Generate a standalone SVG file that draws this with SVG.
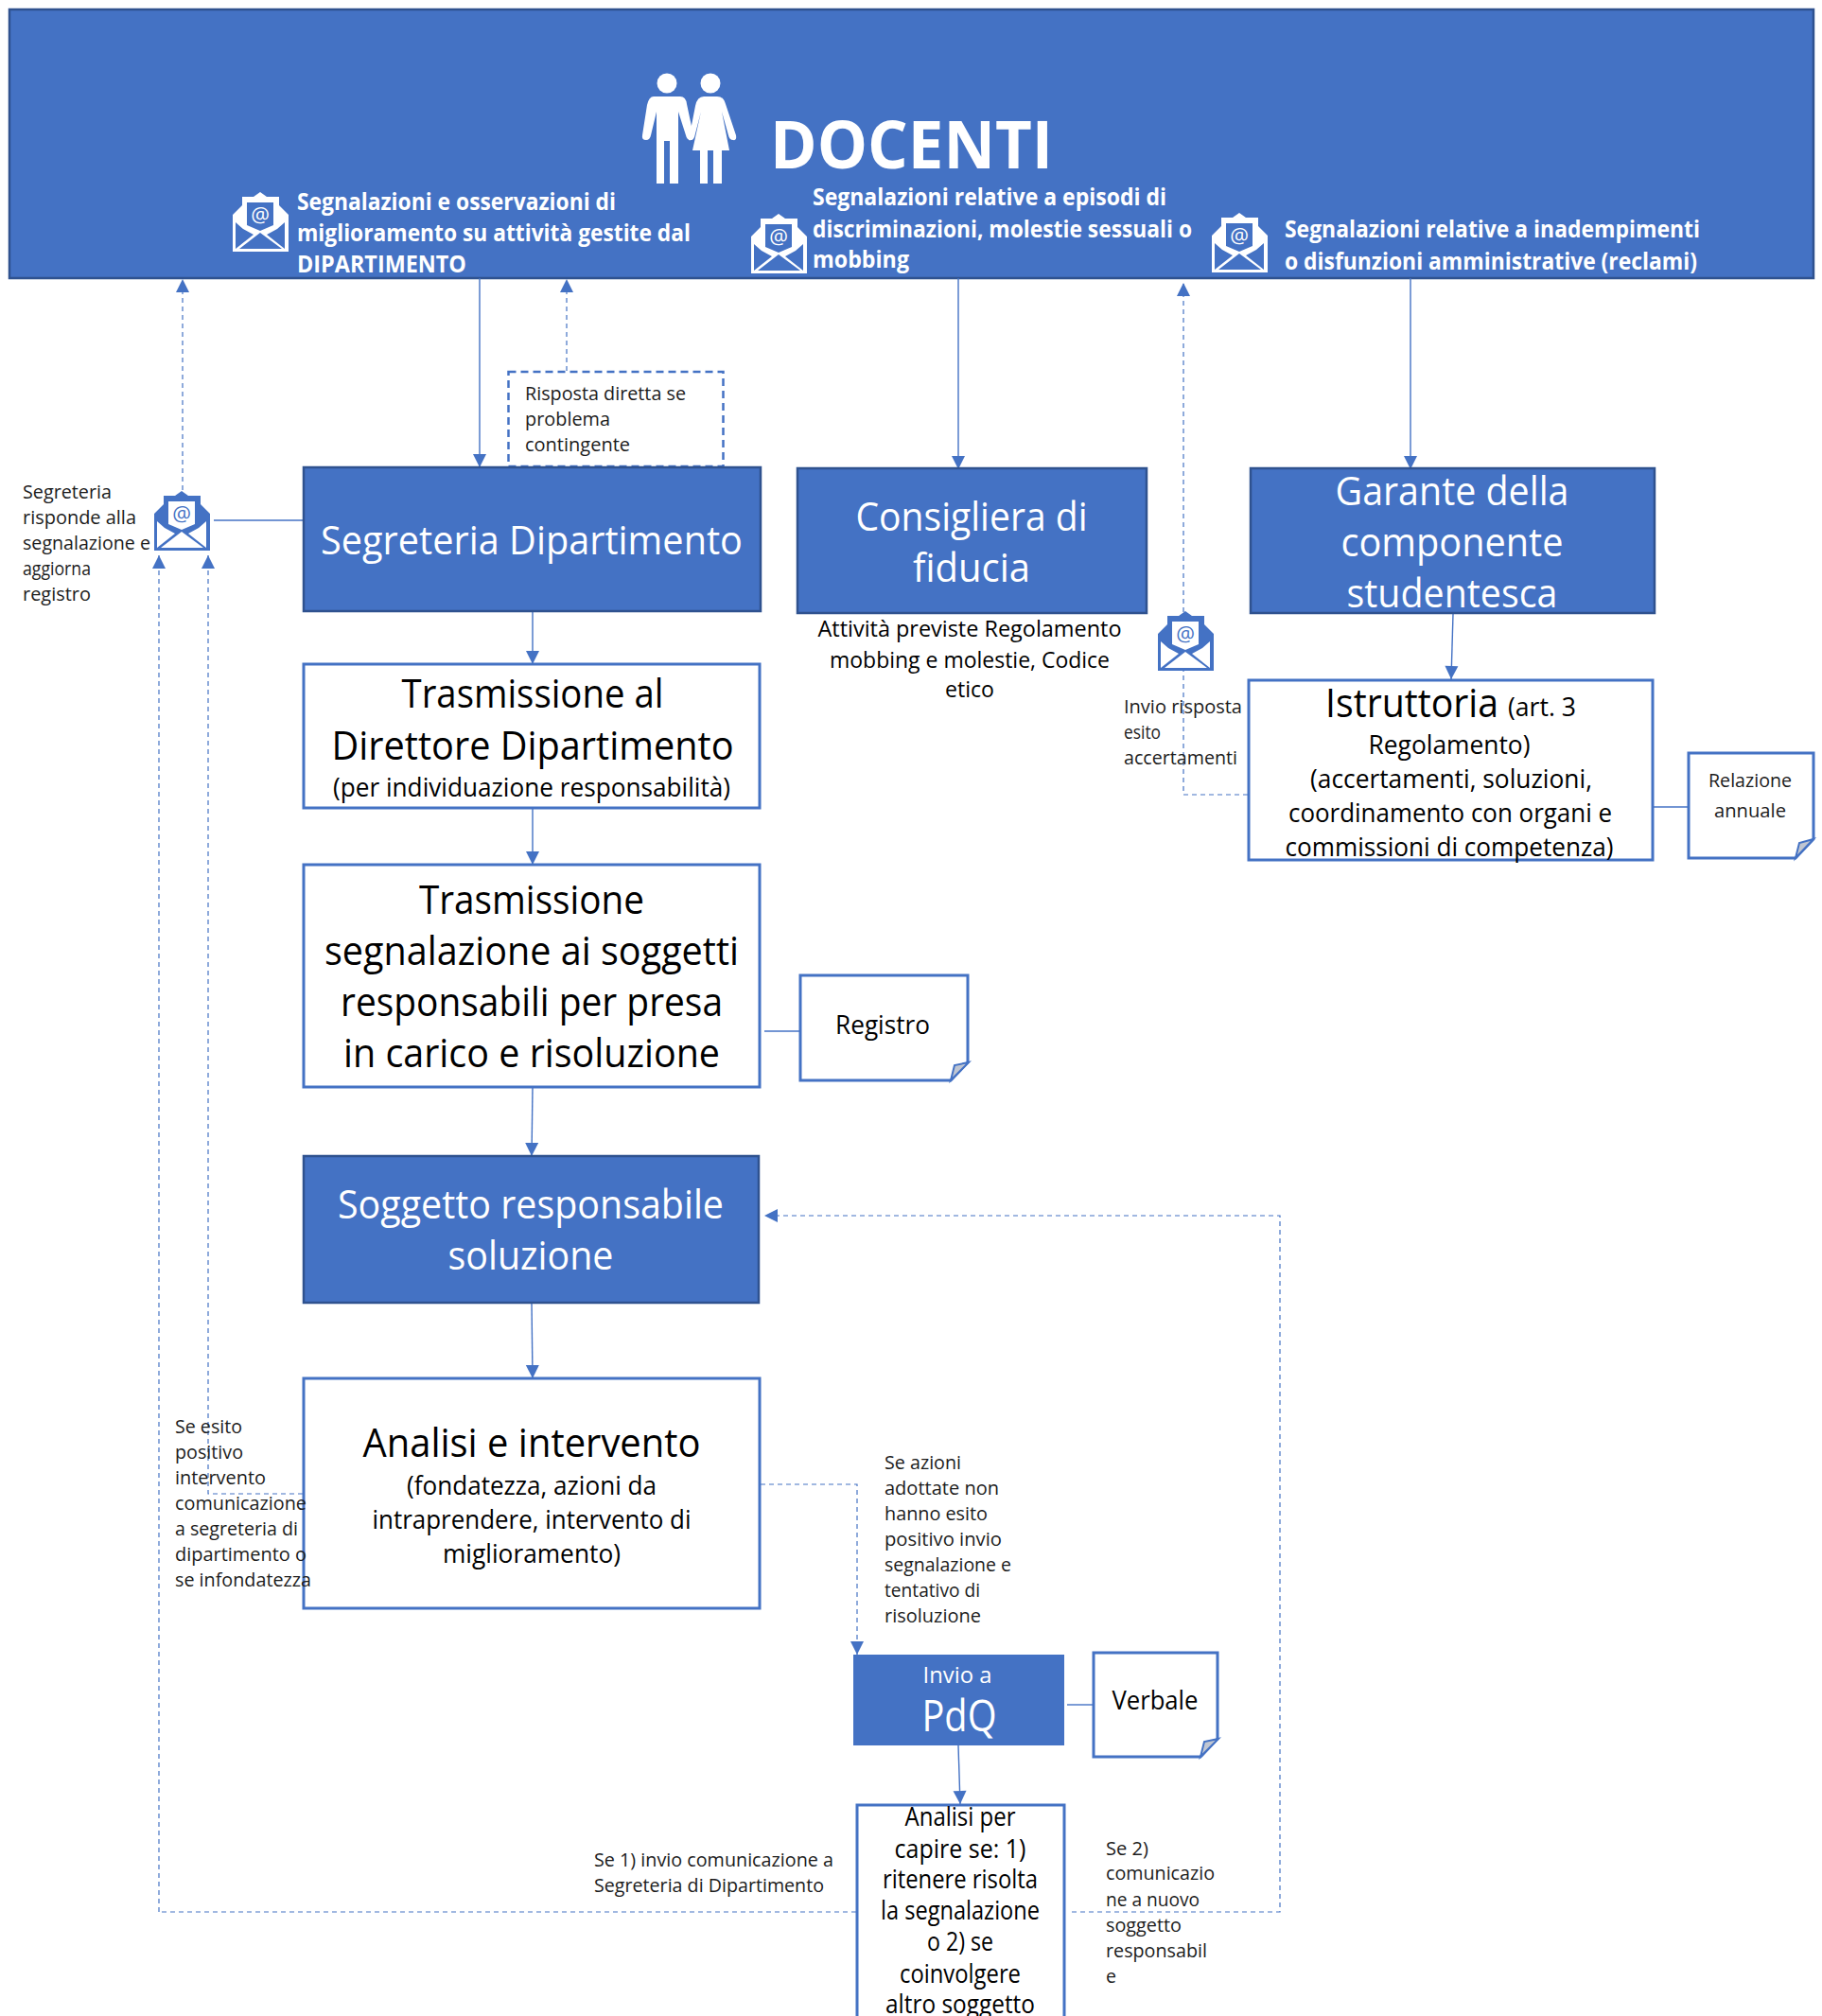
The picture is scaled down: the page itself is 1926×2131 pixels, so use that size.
<svg xmlns="http://www.w3.org/2000/svg" width="1926" height="2131" viewBox="0 0 1926 2131">
<style>
text{font-family:"Open Sans","Noto Sans","Liberation Sans",sans-serif}
.blue{fill:#4472c4;stroke:#2f528f;stroke-width:2.5}
.white{fill:#fff;stroke:#4472c4;stroke-width:3}
.fold{fill:#c0c6d2;stroke:#4472c4;stroke-width:2}
.c{text-anchor:middle}
.w{fill:#fff}
.k{fill:#000}
.s{fill:#1c1c1c;font-size:20px}
.m{font-size:27px}
.l{font-size:42px}
.h{fill:#fff;font-size:25px;font-weight:700}
.ln{fill:none;stroke:#4472c4;stroke-width:1.4}
.ar{marker-end:url(#arrow)}
.da{stroke-dasharray:5 4;stroke-width:1.2}
.ic-w{color:#fff;--b:#4472c4}
.ic-b{color:#4472c4;--b:#fff}
</style>
<defs>
<marker id="arrow" markerUnits="userSpaceOnUse" markerWidth="16" markerHeight="16" viewBox="0 0 16 16" refX="15" refY="8" orient="auto"><path d="M1,1 L15,8 L1,15 Z" fill="#4472c4"/></marker>
<g id="mail">
<path d="M29,0 L36,5 H49 V14 L59,24 V63 H0 V24 L10,14 V5 H22 Z" fill="currentColor"/>
<path d="M15,11 H43 V35 L29,41 L15,35 Z" style="fill:var(--b)"/>
<path d="M3,32 L11,39 L22,45 L3,60 Z M55,32 L47,39 L36,45 L55,60 Z M7,60 L29,43 L52,60 Z" style="fill:var(--b)"/>
<text x="29" y="32" text-anchor="middle" font-size="22" fill="currentColor">@</text>
</g>
</defs>

<g id="docenti">
<rect class="blue" x="10" y="10" width="1907" height="284"/>
<circle cx="705" cy="88" r="10.5" fill="#fff"/><circle cx="751" cy="88" r="10.5" fill="#fff"/>
<path fill="#fff" d="M691,102 H719 Q725,102 726,110 L733,143 Q734,148 730,148 Q726,148 725,143 L717,118 V194 H708 V149 H702 V194 H694 V118 L688,143 Q687,148 683,148 Q678,148 679,143 L684,111 Q686,102 691,102 Z"/>
<path fill="#fff" d="M744,102 H758 Q765,102 767,110 L778,143 Q779,149 775,148 Q771,148 770,143 L763,118 L771,159 H763 V194 H754 V159 H748 V194 H740 V159 H732 L741,118 L734,145 Q732,149 728,148 L735,112 Q737,102 744,102 Z"/>
<text x="814" y="178" font-size="70" font-weight="700" class="w" textLength="299" lengthAdjust="spacingAndGlyphs">DOCENTI</text>
<use href="#mail" x="246" y="203" class="ic-w"/>
<use href="#mail" x="794" y="226" class="ic-w"/>
<use href="#mail" x="1281" y="225" class="ic-w"/>
<text class="h" x="314" y="222" textLength="337" lengthAdjust="spacingAndGlyphs">Segnalazioni e osservazioni di</text>
<text class="h" x="314" y="255" textLength="416" lengthAdjust="spacingAndGlyphs">miglioramento su attività gestite dal</text>
<text class="h" x="314" y="288" textLength="179" lengthAdjust="spacingAndGlyphs">DIPARTIMENTO</text>
<text class="h" x="859" y="217" textLength="374" lengthAdjust="spacingAndGlyphs">Segnalazioni relative a episodi di</text>
<text class="h" x="859" y="251" textLength="401" lengthAdjust="spacingAndGlyphs">discriminazioni, molestie sessuali o</text>
<text class="h" x="859" y="283" textLength="102" lengthAdjust="spacingAndGlyphs">mobbing</text>
<text class="h" x="1358" y="251" textLength="439" lengthAdjust="spacingAndGlyphs">Segnalazioni relative a inadempimenti</text>
<text class="h" x="1358" y="285" textLength="436" lengthAdjust="spacingAndGlyphs">o disfunzioni amministrative (reclami)</text>
</g>

<g id="connectors">
<path class="ln ar" d="M507,294 V494"/>
<path class="ln ar da" d="M599,392 V295"/>
<path class="ln ar da" d="M193,518 V295"/>
<path class="ln" d="M226,550 H320"/>
<path class="ln ar da" d="M168,2021 V587"/>
<path class="ln ar da" d="M320,1579 H220 V587"/>
<path class="ln ar" d="M1013,294 V496"/>
<path class="ln ar" d="M1491,294 V496"/>
<path class="ln ar" d="M1536,649 L1534,718"/>
<path class="ln ar da" d="M1319,840 H1251 V299"/>
<path class="ln" d="M1747,853 H1785"/>
<path class="ln ar" d="M563,646 V702"/>
<path class="ln ar" d="M563,854 V914"/>
<path class="ln" d="M808,1090 H846"/>
<path class="ln ar" d="M563,1149 L562,1222"/>
<path class="ln ar" d="M562,1377 L563,1457"/>
<path class="ln ar da" d="M804,1569 H906 V1749"/>
<path class="ln" d="M1128,1802 H1155"/>
<path class="ln ar" d="M1013,1845 L1015,1907"/>
<path class="ln da" d="M905,2021 H168"/>
<path class="ln ar da" d="M1133,2021 H1353 V1285 H808"/>
</g>

<g id="risposta-diretta">
<rect x="537.5" y="393" width="227" height="100" fill="none" stroke="#4472c4" stroke-width="2.5" stroke-dasharray="8 5"/>
<text class="s" x="555" y="423" textLength="170" lengthAdjust="spacingAndGlyphs">Risposta diretta se</text>
<text class="s" x="555" y="450" textLength="90" lengthAdjust="spacingAndGlyphs">problema</text>
<text class="s" x="555" y="477" textLength="111" lengthAdjust="spacingAndGlyphs">contingente</text>
</g>

<g id="segreteria-risponde">
<use href="#mail" x="163" y="519" class="ic-b"/>
<text class="s" x="24" y="527" textLength="94" lengthAdjust="spacingAndGlyphs">Segreteria</text>
<text class="s" x="24" y="554" textLength="120" lengthAdjust="spacingAndGlyphs">risponde alla</text>
<text class="s" x="24" y="581" textLength="135" lengthAdjust="spacingAndGlyphs">segnalazione e</text>
<text class="s" x="24" y="608" textLength="72" lengthAdjust="spacingAndGlyphs">aggiorna</text>
<text class="s" x="24" y="635" textLength="72" lengthAdjust="spacingAndGlyphs">registro</text>
</g>

<g id="segreteria-dipartimento">
<rect class="blue" x="321" y="494" width="483" height="152"/>
<text class="l w c" x="562" y="586" textLength="446" lengthAdjust="spacingAndGlyphs">Segreteria Dipartimento</text>
</g>

<g id="consigliera">
<rect class="blue" x="843" y="495" width="369" height="153"/>
<text class="l w c" x="1027" y="561" textLength="245" lengthAdjust="spacingAndGlyphs">Consigliera di</text>
<text class="l w c" x="1027" y="615" textLength="124" lengthAdjust="spacingAndGlyphs">fiducia</text>
<text class="k c" font-size="24" x="1025" y="673" textLength="321" lengthAdjust="spacingAndGlyphs">Attività previste Regolamento</text>
<text class="k c" font-size="24" x="1025" y="706" textLength="296" lengthAdjust="spacingAndGlyphs">mobbing e molestie, Codice</text>
<text class="k c" font-size="24" x="1025" y="737" textLength="52" lengthAdjust="spacingAndGlyphs">etico</text>
</g>

<g id="garante">
<rect class="blue" x="1322" y="495" width="427" height="153"/>
<text class="l w c" x="1535" y="534" textLength="247" lengthAdjust="spacingAndGlyphs">Garante della</text>
<text class="l w c" x="1535" y="588" textLength="235" lengthAdjust="spacingAndGlyphs">componente</text>
<text class="l w c" x="1535" y="642" textLength="223" lengthAdjust="spacingAndGlyphs">studentesca</text>
</g>

<g id="istruttoria">
<rect class="white" x="1320" y="719" width="427" height="190"/>
<text class="k" font-size="42" x="1401" y="758" textLength="183" lengthAdjust="spacingAndGlyphs">Istruttoria</text>
<text class="k m" x="1594" y="757" textLength="72" lengthAdjust="spacingAndGlyphs">(art. 3</text>
<text class="k m c" x="1532" y="797" textLength="171" lengthAdjust="spacingAndGlyphs">Regolamento)</text>
<text class="k m c" x="1534" y="833" textLength="298" lengthAdjust="spacingAndGlyphs">(accertamenti, soluzioni,</text>
<text class="k m c" x="1533" y="869" textLength="342" lengthAdjust="spacingAndGlyphs">coordinamento con organi e</text>
<text class="k m c" x="1532" y="905" textLength="347" lengthAdjust="spacingAndGlyphs">commissioni di competenza)</text>
</g>

<g id="invio-risposta">
<use href="#mail" x="1224" y="646" class="ic-b"/>
<text class="s" x="1188" y="754" textLength="125" lengthAdjust="spacingAndGlyphs">Invio risposta</text>
<text class="s" x="1188" y="781" textLength="39" lengthAdjust="spacingAndGlyphs">esito</text>
<text class="s" x="1188" y="808" textLength="120" lengthAdjust="spacingAndGlyphs">accertamenti</text>
</g>

<g id="relazione-annuale">
<path class="white" d="M1785,796 H1917 V887 L1898,907 H1785 Z"/>
<path class="fold" d="M1898,907 L1902,891 L1917,887 Z"/>
<text class="s c" x="1850" y="832" textLength="88" lengthAdjust="spacingAndGlyphs">Relazione</text>
<text class="s c" x="1850" y="864" textLength="76" lengthAdjust="spacingAndGlyphs">annuale</text>
</g>

<g id="trasmissione-direttore">
<rect class="white" x="321" y="702" width="482" height="152"/>
<text class="k l c" x="563" y="748" textLength="277" lengthAdjust="spacingAndGlyphs">Trasmissione al</text>
<text class="k l c" x="563" y="803" textLength="425" lengthAdjust="spacingAndGlyphs">Direttore Dipartimento</text>
<text class="k m c" x="562" y="842" textLength="420" lengthAdjust="spacingAndGlyphs">(per individuazione responsabilità)</text>
</g>

<g id="trasmissione-segnalazione">
<rect class="white" x="321" y="914" width="482" height="235"/>
<text class="k l c" x="562" y="966" textLength="238" lengthAdjust="spacingAndGlyphs">Trasmissione</text>
<text class="k l c" x="562" y="1020" textLength="438" lengthAdjust="spacingAndGlyphs">segnalazione ai soggetti</text>
<text class="k l c" x="562" y="1074" textLength="404" lengthAdjust="spacingAndGlyphs">responsabili per presa</text>
<text class="k l c" x="562" y="1128" textLength="398" lengthAdjust="spacingAndGlyphs">in carico e risoluzione</text>
</g>

<g id="registro">
<path class="white" d="M846,1031 H1023 V1123 L1005,1142 H846 Z"/>
<path class="fold" d="M1005,1142 L1009,1126 L1024,1123 Z"/>
<text class="k c" font-size="28" x="933" y="1093" textLength="100" lengthAdjust="spacingAndGlyphs">Registro</text>
</g>

<g id="soggetto-responsabile">
<rect class="blue" x="321" y="1222" width="481" height="155"/>
<text class="l w c" x="561" y="1288" textLength="408" lengthAdjust="spacingAndGlyphs">Soggetto responsabile</text>
<text class="l w c" x="561" y="1342" textLength="175" lengthAdjust="spacingAndGlyphs">soluzione</text>
</g>

<g id="analisi-intervento">
<rect class="white" x="321" y="1457" width="482" height="243"/>
<text class="k l c" x="562" y="1540" textLength="357" lengthAdjust="spacingAndGlyphs">Analisi e intervento</text>
<text class="k m c" x="562" y="1580" textLength="264" lengthAdjust="spacingAndGlyphs">(fondatezza, azioni da</text>
<text class="k m c" x="562" y="1616" textLength="337" lengthAdjust="spacingAndGlyphs">intraprendere, intervento di</text>
<text class="k m c" x="562" y="1652" textLength="188" lengthAdjust="spacingAndGlyphs">miglioramento)</text>
</g>

<g id="label-esito-positivo">
<text class="s" x="185" y="1515" textLength="71" lengthAdjust="spacingAndGlyphs">Se esito</text>
<text class="s" x="185" y="1542" textLength="72" lengthAdjust="spacingAndGlyphs">positivo</text>
<text class="s" x="185" y="1569" textLength="96" lengthAdjust="spacingAndGlyphs">intervento</text>
<text class="s" x="185" y="1596" textLength="139" lengthAdjust="spacingAndGlyphs">comunicazione</text>
<text class="s" x="185" y="1623" textLength="130" lengthAdjust="spacingAndGlyphs">a segreteria di</text>
<text class="s" x="185" y="1650" textLength="139" lengthAdjust="spacingAndGlyphs">dipartimento o</text>
<text class="s" x="185" y="1677" textLength="144" lengthAdjust="spacingAndGlyphs">se infondatezza</text>
</g>

<g id="label-se-azioni">
<text class="s" x="935" y="1553" textLength="81" lengthAdjust="spacingAndGlyphs">Se azioni</text>
<text class="s" x="935" y="1580" textLength="121" lengthAdjust="spacingAndGlyphs">adottate non</text>
<text class="s" x="935" y="1607" textLength="109" lengthAdjust="spacingAndGlyphs">hanno esito</text>
<text class="s" x="935" y="1634" textLength="124" lengthAdjust="spacingAndGlyphs">positivo invio</text>
<text class="s" x="935" y="1661" textLength="134" lengthAdjust="spacingAndGlyphs">segnalazione e</text>
<text class="s" x="935" y="1688" textLength="101" lengthAdjust="spacingAndGlyphs">tentativo di</text>
<text class="s" x="935" y="1715" textLength="102" lengthAdjust="spacingAndGlyphs">risoluzione</text>
</g>

<g id="invio-pdq">
<rect x="902" y="1749" width="223" height="96" fill="#4472c4"/>
<text class="w c" font-size="24" x="1012" y="1779" textLength="73" lengthAdjust="spacingAndGlyphs">Invio a</text>
<text class="w c" font-size="46" x="1014" y="1830" textLength="79" lengthAdjust="spacingAndGlyphs">PdQ</text>
</g>

<g id="verbale">
<path class="white" d="M1156,1747 H1287 V1838 L1269,1857 H1156 Z"/>
<path class="fold" d="M1269,1857 L1273,1841 L1288,1838 Z"/>
<text class="k c" font-size="28" x="1221" y="1807" textLength="91" lengthAdjust="spacingAndGlyphs">Verbale</text>
</g>

<g id="analisi-pdq">
<path class="white" d="M906,2132 V1908 H1125 V2132"/>
<text class="k m c" x="1015" y="1930" textLength="117" lengthAdjust="spacingAndGlyphs">Analisi per</text>
<text class="k m c" x="1015" y="1964" textLength="139" lengthAdjust="spacingAndGlyphs">capire se: 1)</text>
<text class="k m c" x="1015" y="1996" textLength="164" lengthAdjust="spacingAndGlyphs">ritenere risolta</text>
<text class="k m c" x="1015" y="2029" textLength="168" lengthAdjust="spacingAndGlyphs">la segnalazione</text>
<text class="k m c" x="1015" y="2062" textLength="70" lengthAdjust="spacingAndGlyphs">o 2) se</text>
<text class="k m c" x="1015" y="2096" textLength="128" lengthAdjust="spacingAndGlyphs">coinvolgere</text>
<text class="k m c" x="1015" y="2128" textLength="158" lengthAdjust="spacingAndGlyphs">altro soggetto</text>
</g>

<g id="label-se-1">
<text class="s" x="628" y="1973" textLength="253" lengthAdjust="spacingAndGlyphs">Se 1) invio comunicazione a</text>
<text class="s" x="628" y="2000" textLength="243" lengthAdjust="spacingAndGlyphs">Segreteria di Dipartimento</text>
</g>

<g id="label-se-2">
<text class="s" x="1169" y="1961" textLength="45" lengthAdjust="spacingAndGlyphs">Se 2)</text>
<text class="s" x="1169" y="1987" textLength="115" lengthAdjust="spacingAndGlyphs">comunicazio</text>
<text class="s" x="1169" y="2015" textLength="99" lengthAdjust="spacingAndGlyphs">ne a nuovo</text>
<text class="s" x="1169" y="2042" textLength="80" lengthAdjust="spacingAndGlyphs">soggetto</text>
<text class="s" x="1169" y="2069" textLength="107" lengthAdjust="spacingAndGlyphs">responsabil</text>
<text class="s" x="1169" y="2096" textLength="11" lengthAdjust="spacingAndGlyphs">e</text>
</g>
</svg>
